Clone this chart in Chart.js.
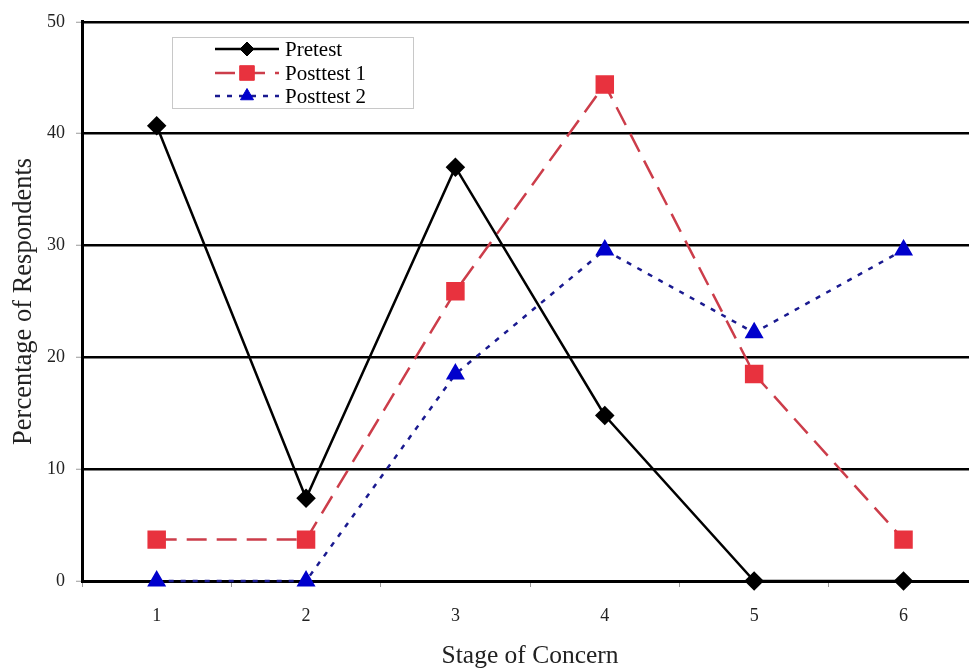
<!DOCTYPE html>
<html>
<head>
<meta charset="utf-8">
<script src="https://cdn.jsdelivr.net/npm/chart.js@4.4.0/dist/chart.umd.min.js"></script>
<style>
	html, body { margin: 0; padding: 0; background: #fff; overflow: hidden; }
	#wrap { width: 992px; height: 669px; }
</style>
</head>
<body>
<div id="wrap"><canvas id="stageChart" width="992" height="669"></canvas></div>
<script>
// x축 : 단계
const stages = ["1", "2", "3", "4", "5", "6"];
const yTicks = [0, 10, 20, 30, 40, 50];

// y축 : 응답 비율
const pretest = [40.7, 7.4, 37.0, 14.8, 0, 0];
const posttest1 = [3.7, 3.7, 25.9, 44.4, 18.5, 3.7];
const posttest2 = [0, 0, 18.5, 29.6, 22.2, 29.6];

const serif = "'Liberation Serif', 'DejaVu Serif', serif";

// 차트 안쪽 범례
const boxLegend = {
	id: 'boxLegend',
	afterDraw(chart) {
		const ctx = chart.ctx;
		const x0 = 172, y0 = 37, w = 241, h = 71;
		ctx.save();
		ctx.fillStyle = '#fff';
		ctx.fillRect(x0, y0, w, h);
		ctx.strokeStyle = '#c8c8c8';
		ctx.lineWidth = 1;
		ctx.strokeRect(x0 + 0.5, y0 + 0.5, w, h);
		const rows = [49, 73, 96];
		chart.data.datasets.forEach(function(ds, i) {
			const y = rows[i];
			ctx.strokeStyle = ds.borderColor;
			ctx.lineWidth = ds.borderWidth;
			ctx.setLineDash(ds.borderDash || []);
			ctx.beginPath();
			ctx.moveTo(215, y);
			ctx.lineTo(279, y);
			ctx.stroke();
			ctx.setLineDash([]);
			ctx.fillStyle = ds.pointBackgroundColor;
			ctx.strokeStyle = ds.pointBorderColor;
			ctx.lineWidth = 1;
			Chart.helpers.drawPoint(ctx, {
				pointStyle: ds.pointStyle,
				radius: ds.pointRadius - 1,
				borderWidth: 1
			}, 247, y);
			ctx.fillStyle = '#000';
			ctx.font = "21px " + serif;
			ctx.textBaseline = 'middle';
			ctx.fillText(ds.label, 285, y + 1);
		});
		ctx.restore();
	}
};

const ctx = document.getElementById('stageChart').getContext('2d');
const stageChart = new Chart(ctx, {
	type: 'line',
	data: {
		labels: stages,
		datasets: [{
			label: 'Pretest',
			data: pretest,
			order: 1,
			clip: false,
			borderColor: '#000',
			borderWidth: 2.5,
			pointStyle: 'rectRot',
			pointRadius: 8,
			pointBackgroundColor: '#000',
			pointBorderColor: '#000',
			fill: false,
			tension: 0
		}, {
			label: 'Posttest 1',
			data: posttest1,
			order: 2,
			clip: false,
			borderColor: '#cc3d4a',
			borderWidth: 2.5,
			borderDash: [20, 10],
			pointStyle: 'rect',
			pointRadius: 11.3,
			pointBackgroundColor: '#e8323e',
			pointBorderColor: '#e8323e',
			fill: false,
			tension: 0
		}, {
			label: 'Posttest 2',
			data: posttest2,
			order: 3,
			clip: false,
			borderColor: '#1a1a90',
			borderWidth: 2.5,
			borderDash: [5, 7],
			pointStyle: 'triangle',
			pointRadius: 8.5,
			pointBackgroundColor: '#0000cc',
			pointBorderColor: '#0000cc',
			fill: false,
			tension: 0
		}]
	},
	options: {
		responsive: false,
		animation: false,
		layout: { padding: { top: 19, right: 3, left: 0, bottom: 0 } },
		scales: {
			x: {
				offset: true,
				grid: {
					offset: true,
					drawOnChartArea: false,
					drawTicks: true,
					tickLength: 6,
					tickColor: '#9a9a9a',
					tickWidth: 1
				},
				border: { color: '#000', width: 3 },
				ticks: { color: '#222', font: { family: serif, size: 18 }, padding: 18 },
				title: {
					display: true,
					text: 'Stage of Concern',
					color: '#222',
					font: { family: serif, size: 25.5 },
					padding: { top: 4, bottom: -3 }
				},
				afterFit: function(scale) { scale.height = 88; }
			},
			y: {
				min: 0,
				max: 50,
				afterBuildTicks: function(scale) {
					scale.ticks = yTicks.map(function(v) { return { value: v }; });
				},
				grid: {
					color: '#000',
					lineWidth: 2.5,
					drawTicks: true,
					tickLength: 6,
					tickColor: '#9a9a9a',
					tickWidth: 1
				},
				border: { color: '#000', width: 3 },
				ticks: { color: '#222', font: { family: serif, size: 18 }, padding: 11 },
				title: {
					display: true,
					text: 'Percentage of Respondents',
					color: '#222',
					font: { family: serif, size: 26.5 },
					padding: { top: 8, bottom: 0 }
				},
				afterFit: function(scale) { scale.width = 82; }
			}
		},
		plugins: {
			legend: { display: false },
			tooltip: { enabled: false }
		}
	},
	plugins: [boxLegend]
});
</script>
</body>
</html>
